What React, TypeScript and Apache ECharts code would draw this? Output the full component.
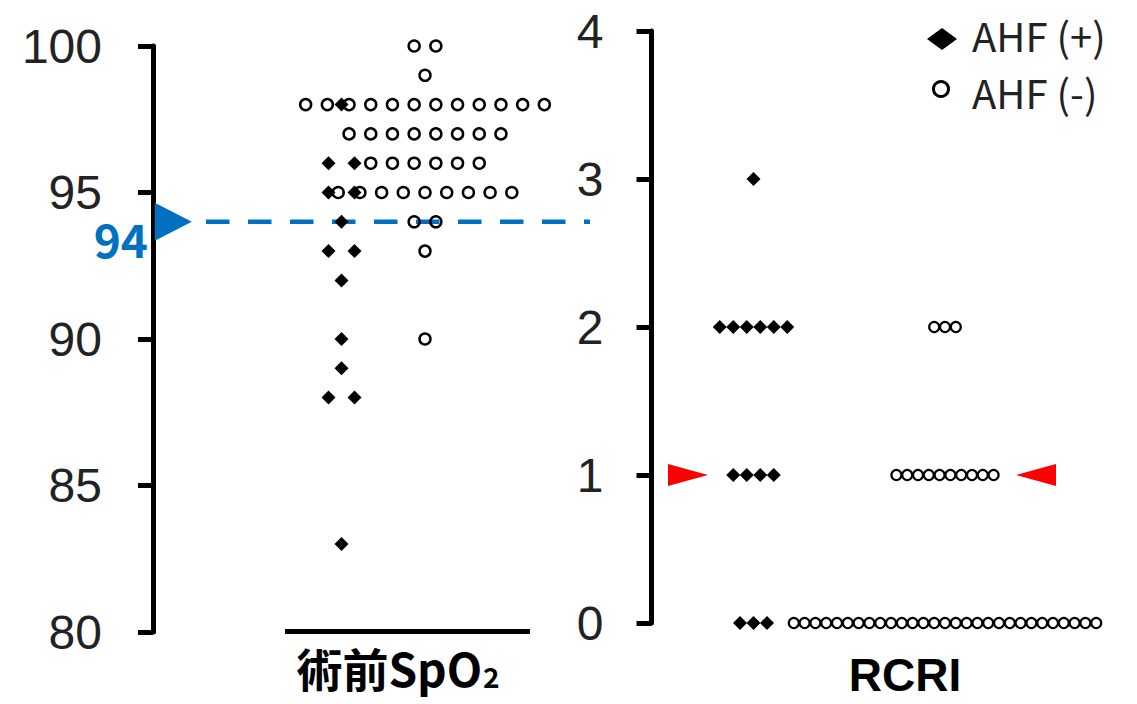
import React, { useEffect, useRef } from 'react';
import * as echarts from 'echarts';

// ---- data ----
const SPO2_VALUES = [100, 99, 98, 97, 96, 95, 94, 93, 92, 90, 89, 88, 83];
const SPO2_AHF_POS = [0, 0, 1, 0, 2, 2, 1, 2, 1, 1, 1, 2, 1];
const SPO2_AHF_NEG = [2, 1, 12, 8, 6, 9, 2, 1, 0, 1, 0, 0, 0];
const RCRI_VALUES = [3, 2, 1, 0];
const RCRI_AHF_POS = [1, 6, 4, 3];
const RCRI_AHF_NEG = [0, 3, 10, 29];
const SPO2_TICKS = [80, 85, 90, 95, 100];
const RCRI_TICKS = [0, 1, 2, 3, 4];
const SPO2_CUTOFF = 94;
const RCRI_CUTOFF = 1;
const LABEL_SPO2 = '術前SpO';
const LABEL_RCRI = 'RCRI';
const LEGEND_POS = 'AHF (+)';
const LEGEND_NEG = 'AHF (-)';

const FONT = '"Noto Sans CJK JP", "Noto Sans", sans-serif';
const LATIN = '"Liberation Sans", Arial, sans-serif';

// beeswarm layout: spreads equal values side by side around a centre
function swarm(values: number[], counts: number[], center: number, spacing: number) {
  const pts: number[][] = [];
  values.forEach((v, i) => {
    const n = counts[i];
    for (let k = 0; k < n; k++) pts.push([center + (k - (n - 1) / 2) * spacing, v]);
  });
  return pts;
}

export default function App() {
  const ref = useRef<HTMLDivElement>(null);
  useEffect(() => {
    if (!ref.current) return;
    const chart = echarts.init(ref.current, null, { renderer: 'svg' });
    const W0 = 447;
    const W1 = 468;
    const yAxisCommon = {
      axisLine: { show: true, lineStyle: { color: '#000', width: 5 } },
      axisTick: { show: true, length: 15, lineStyle: { color: '#000', width: 5 } },
      splitLine: { show: false },
      axisLabel: { fontSize: 48, lineHeight: 48, color: '#222', fontFamily: LATIN },
    };
    chart.setOption({
      animation: false,
      backgroundColor: '#fff',
      grid: [
        { left: 153, top: 46, width: W0, height: 586 },
        { left: 651.5, top: 31, width: W1, height: 592 },
      ],
      xAxis: [
        { type: 'value', gridIndex: 0, min: 0, max: W0, show: false },
        { type: 'value', gridIndex: 1, min: 0, max: W1, show: false },
      ],
      yAxis: [
        {
          type: 'value', gridIndex: 0, min: SPO2_TICKS[0], max: SPO2_TICKS[SPO2_TICKS.length - 1], interval: 5,
          ...yAxisCommon, axisLabel: { ...yAxisCommon.axisLabel, margin: 51 },
        },
        {
          type: 'value', gridIndex: 1, min: RCRI_TICKS[0], max: RCRI_TICKS[RCRI_TICKS.length - 1], interval: 1,
          ...yAxisCommon, axisLabel: { ...yAxisCommon.axisLabel, margin: 48 },
        },
      ],
      series: [
        {
          type: 'line', xAxisIndex: 0, yAxisIndex: 0, z: 1, symbol: 'none',
          data: [[11, SPO2_CUTOFF], [437, SPO2_CUTOFF]],
          lineStyle: { color: '#0070C0', width: 4.5, type: [23.5, 18.5] },
        },
        {
          type: 'scatter', xAxisIndex: 0, yAxisIndex: 0, z: 3,
          data: [{ value: [20.3, SPO2_CUTOFF], symbolRotate: -90 }],
          symbol: 'triangle', symbolSize: [38, 37],
          itemStyle: { color: '#0070C0', opacity: 1 },
        },
        {
          name: LEGEND_POS, type: 'scatter', xAxisIndex: 0, yAxisIndex: 0, z: 4,
          data: swarm(SPO2_VALUES, SPO2_AHF_POS, 188.5, 26),
          symbol: 'diamond', symbolSize: 14, itemStyle: { color: '#000', opacity: 1 },
        },
        {
          name: LEGEND_NEG, type: 'scatter', xAxisIndex: 0, yAxisIndex: 0, z: 5,
          data: swarm(SPO2_VALUES, SPO2_AHF_NEG, 272, 21.7),
          symbol: 'circle', symbolSize: 11,
          itemStyle: { color: 'transparent', borderColor: '#000', borderWidth: 2.5, opacity: 1 },
        },
        {
          type: 'scatter', xAxisIndex: 1, yAxisIndex: 1, z: 3,
          data: [
            { value: [36.5, RCRI_CUTOFF], symbolRotate: -90 },
            { value: [384.5, RCRI_CUTOFF], symbolRotate: 90 },
          ],
          symbol: 'triangle', symbolSize: [22, 40],
          itemStyle: { color: '#FF0000', opacity: 1 },
        },
        {
          name: LEGEND_POS, type: 'scatter', xAxisIndex: 1, yAxisIndex: 1, z: 4,
          data: swarm(RCRI_VALUES, RCRI_AHF_POS, 102, 13.5),
          symbol: 'diamond', symbolSize: 14, itemStyle: { color: '#000', opacity: 1 },
        },
        {
          name: LEGEND_NEG, type: 'scatter', xAxisIndex: 1, yAxisIndex: 1, z: 5,
          data: swarm(RCRI_VALUES, RCRI_AHF_NEG, 293.5, 10.8),
          symbol: 'circle', symbolSize: 10,
          itemStyle: { color: 'transparent', borderColor: '#000', borderWidth: 2.2, opacity: 1 },
        },
      ],
      graphic: [
        { type: 'line', shape: { x1: 285, y1: 631.5, x2: 530, y2: 631.5 }, style: { stroke: '#000', lineWidth: 5 } },
        {
          type: 'text', x: 148, y: 238,
          style: { text: String(SPO2_CUTOFF), fontSize: 46, lineHeight: 46, fontWeight: 'bold', fill: '#0070C0', fontFamily: FONT, textAlign: 'right', textVerticalAlign: 'middle' },
        },
        {
          type: 'text', x: 398, y: 667,
          style: {
            text: '{a|' + LABEL_SPO2 + '}{b|2}', textAlign: 'center', textVerticalAlign: 'middle',
            rich: {
              a: { fontSize: 46, lineHeight: 46, fontWeight: 'bold', fill: '#000', fontFamily: FONT },
              b: { fontSize: 28, lineHeight: 28, fontWeight: 'bold', fill: '#000', fontFamily: FONT, verticalAlign: 'bottom', padding: [14, 0, 0, 1] },
            },
          },
        },
        {
          type: 'text', x: 905, y: 675,
          style: { text: LABEL_RCRI, fontSize: 46, lineHeight: 46, fontWeight: 'bold', fill: '#000', fontFamily: LATIN, textAlign: 'center', textVerticalAlign: 'middle' },
        },
        // legend
        { type: 'polygon', shape: { points: [[927, 39], [942, 28], [957, 39], [942, 50]] }, style: { fill: '#000' } },
        { type: 'circle', shape: { cx: 941, cy: 89, r: 7.5 }, style: { fill: 'none', stroke: '#000', lineWidth: 3 } },
        { type: 'text', x: 972, y: 35, style: { text: LEGEND_POS, fontSize: 40, lineHeight: 40, fill: '#222', fontFamily: FONT, textVerticalAlign: 'middle' } },
        { type: 'text', x: 972, y: 92, style: { text: LEGEND_NEG, fontSize: 40, lineHeight: 40, fill: '#222', fontFamily: FONT, textVerticalAlign: 'middle' } },
      ],
    });
    return () => chart.dispose();
  }, []);
  return <div ref={ref} style={{ position: 'fixed', left: 0, top: 0, width: 1137, height: 704 }} />;
}
